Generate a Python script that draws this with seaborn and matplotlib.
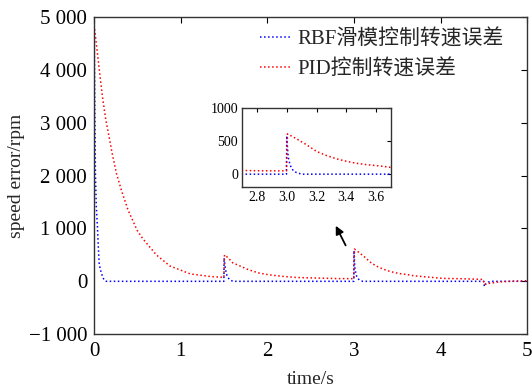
import numpy as np
import pandas as pd
import matplotlib
matplotlib.use("Agg")
from matplotlib import pyplot as plt
import seaborn as sns

# speed error of the RBF sliding-mode controller
t_rbf = [0, 0.004, 0.008, 0.015, 0.025, 0.038, 0.048, 0.058, 0.07, 0.085, 0.1, 0.12, 0.14,
         1.498, 1.5, 1.51, 1.525, 1.54, 1.56, 1.58, 1.61,
         2.998, 3.0, 3.005, 3.01, 3.02, 3.03, 3.045, 3.065, 3.1,
         4.498, 4.505, 4.52, 4.55, 4.6, 5.0]
v_rbf = [4800, 4000, 3200, 2000, 1400, 1030, 650, 340, 230, 150, 70, 20, 0,
         0, 440, 300, 150, 80, 40, 15, 0,
         0, 580, 400, 260, 160, 100, 50, 25, 0,
         0, -100, -50, -15, 0, 0]

# speed error of the PID controller
t_pid = [0, 0.038, 0.073, 0.096, 0.135, 0.173, 0.208, 0.258, 0.315, 0.392, 0.496, 0.56,
         0.718, 0.875, 1.11, 1.345, 1.498,
         1.505, 1.55, 1.6, 1.684, 1.78, 1.895, 2.01, 2.165, 2.34, 2.57, 2.8, 2.998,
         3.005, 3.065, 3.133, 3.2, 3.267, 3.335, 3.402, 3.47, 3.537, 3.627, 3.694,
         3.8, 4.03, 4.26, 4.49, 4.505, 4.55, 4.6, 4.68, 4.8, 5.0]
v_pid = [4850, 4310, 3810, 3490, 3050, 2730, 2420, 2040, 1720, 1345, 966, 810,
         500, 290, 140, 90, 75,
         500, 440, 350, 290, 220, 160, 125, 95, 72, 62, 52, 50,
         610, 537, 445, 345, 282, 232, 194, 164, 144, 124, 104,
         88, 55, 48, 35, -60, -40, -30, -10, 0, 10]

label_rbf = 'RBF滑模控制转速误差'
label_pid = 'PID控制转速误差'

yticks = [-1000, 0, 1000, 2000, 3000, 4000, 5000]
yticklabels = ['\u22121 000', '0', '1 000', '2 000', '3 000', '4 000', '5 000']
xticks = [0, 1, 2, 3, 4, 5]

in_xticks = [2.8, 3.0, 3.2, 3.4, 3.6]
in_xticklabels = ['2.8', '3.0', '3.2', '3.4', '3.6']
in_yticks = [0, 500, 1000]

df_rbf = pd.DataFrame({'t': t_rbf, 'v': v_rbf})
df_pid = pd.DataFrame({'t': t_pid, 'v': v_pid})

sns.set_style("white")
plt.rcParams['font.family'] = ['Liberation Serif', 'Noto Sans CJK SC']
plt.rcParams['axes.unicode_minus'] = True

fig = plt.figure(figsize=(5.32, 3.89), dpi=100)
ax = fig.add_axes([0.177, 0.141, 0.814, 0.815])

sns.lineplot(data=df_rbf, x='t', y='v', ax=ax, color='#0000ff', linestyle=':', lw=1.1,
             estimator=None, sort=False, label=label_rbf)
sns.lineplot(data=df_pid, x='t', y='v', ax=ax, color='#ff0000', linestyle=':', lw=1.1,
             estimator=None, sort=False, label=label_pid)

ax.set_xlim(0, 5)
ax.set_ylim(-1000, 5000)
ax.set_xticks(xticks)
ax.set_xticklabels([str(x) for x in xticks])
ax.set_yticks(yticks)
ax.set_yticklabels(yticklabels)
ax.tick_params(direction='in', length=4, width=0.8, top=True, right=True,
               labelsize=15, pad=5, colors='k')
ax.tick_params(axis='x', pad=6)
for s in ax.spines.values():
    s.set_color('#333333')
    s.set_linewidth(1.0)
ax.set_xlabel('time/s', fontsize=14, labelpad=7)
ax.set_ylabel('speed error/rpm', fontsize=14, labelpad=3)

leg = ax.legend(loc='upper right', bbox_to_anchor=(0.975, 1.0), frameon=False,
                fontsize=15, handlelength=1.5, handletextpad=0.3, labelspacing=0.45,
                borderaxespad=0.2)

ax.annotate('', xy=(2.775, 1098), xytext=(2.918, 633),
            arrowprops=dict(arrowstyle='-|>', color='k', lw=1.3, mutation_scale=12))

# zoomed inset around t = 3 s
axin = fig.add_axes([0.455, 0.520, 0.280, 0.202])
sns.lineplot(data=df_rbf, x='t', y='v', ax=axin, color='#0000ff', linestyle=':', lw=1.1,
             estimator=None, sort=False, legend=False)
sns.lineplot(data=df_pid, x='t', y='v', ax=axin, color='#ff0000', linestyle=':', lw=1.1,
             estimator=None, sort=False, legend=False)
axin.set_xlim(2.7, 3.7)
axin.set_ylim(-190, 1000)
axin.set_xticks(in_xticks)
axin.set_xticklabels(in_xticklabels)
axin.set_yticks(in_yticks)
axin.set_xlabel('')
axin.set_ylabel('')
axin.tick_params(direction='in', length=3, width=0.8, top=True, right=True,
                 labelsize=10, pad=3, colors='k')
for s in axin.spines.values():
    s.set_color('#333333')
    s.set_linewidth(1.0)

fig.savefig('out.png', dpi=100)
